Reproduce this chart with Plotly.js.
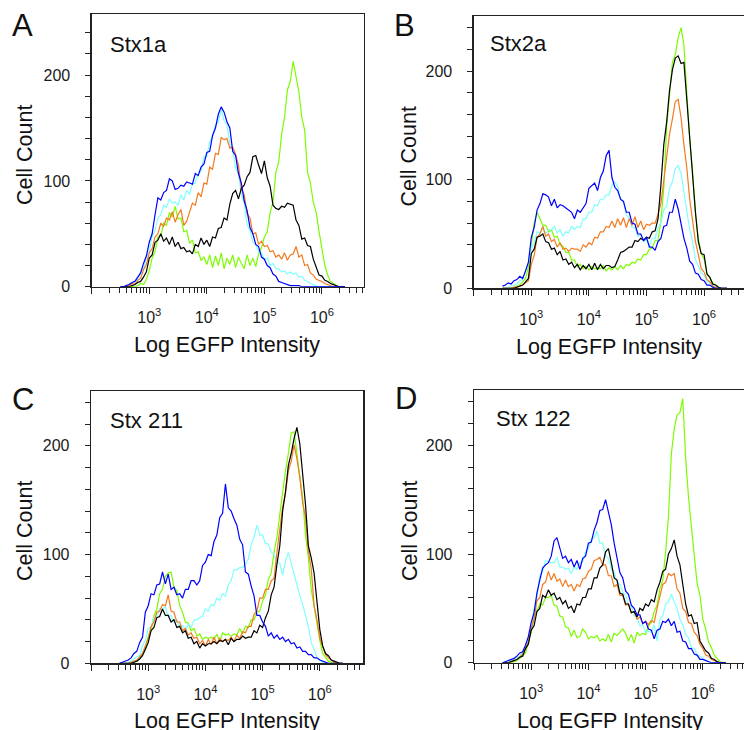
<!DOCTYPE html>
<html>
<head>
<meta charset="utf-8">
<script src="https://cdn.plot.ly/plotly-3.0.1.min.js"></script>
<style>html,body{margin:0;padding:0;background:#fff;}#chart{width:744px;height:730px;}</style>
</head>
<body>
<div id="chart"></div>
<script>
// log10 of bin centres (EGFP intensity)
const logBins = [2.50,2.55,2.60,2.65,2.70,2.75,2.80,2.85,2.90,2.95,
 3.00,3.05,3.10,3.15,3.20,3.25,3.30,3.35,3.40,3.45,
 3.50,3.55,3.60,3.65,3.70,3.75,3.80,3.85,3.90,3.95,
 4.00,4.05,4.10,4.15,4.20,4.25,4.30,4.35,4.40,4.45,
 4.50,4.55,4.60,4.65,4.70,4.75,4.80,4.85,4.90,4.95,
 5.00,5.05,5.10,5.15,5.20,5.25,5.30,5.35,5.40,5.45,
 5.50,5.55,5.60,5.65,5.70,5.75,5.80,5.85,5.90,5.95,
 6.00,6.05,6.10,6.15,6.20,6.25,6.30,6.35,6.40];

const panelLetters = ['A','B','C','D'];
const panelNames = ['Stx1a','Stx2a','Stx 211','Stx 122'];
const xTickText = ['', '10<sup>3</sup>', '10<sup>4</sup>', '10<sup>5</sup>', '10<sup>6</sup>'];
const yTickLabels = [0, 100, 200];
const xTitle = 'Log EGFP Intensity';
const yTitle = 'Cell Count';

// Panel A: Stx1a
const A_green = [0,0,0,0,0,0,1,3,2,7, 15,27,33,47,48,60,58,70,66,76, 64,65,52,53,41,44,32,33,25,28, 21,30,18,29,20,32,17,27,21,30, 18,28,22,17,30,20,27,19,31,37, 47,52,70,80,108,118,144,160,186,194, 213,198,184,160,148,108,98,80,70,52, 36,20,11,5,3,1,0,0,0];
const A_cyan = [0,0,1,2,3,5,7,13,17,28, 33,47,53,65,68,77,75,83,79,80, 77,87,82,91,87,97,98,107,109,123, 123,137,142,153,155,168,157,153,135,129, 112,107,87,79,59,53,42,40,33,32, 26,27,20,22,17,17,14,15,12,14, 12,13,9,10,6,5,3,2,1,0, 0,0,0,0,0,0,0,0,0];
const A_orange = [0,0,0,1,3,2,6,8,16,21, 32,36,47,50,60,57,65,63,71,61, 68,73,58,62,70,79,77,89,85,98, 97,113,111,126,125,141,139,140,131,132, 125,115,92,87,69,65,50,51,40,43, 38,39,33,34,28,30,26,32,25,30, 31,38,28,30,20,21,13,11,7,6, 5,3,2,1,0,0,0,0,0];
const A_black = [0,0,0,0,1,2,4,5,9,14, 27,30,42,44,50,43,46,40,47,38, 42,36,37,33,34,31,40,38,46,40, 44,38,47,46,55,56,65,63,78,88, 91,83,93,96,104,108,123,124,115,107, 119,103,95,77,74,73,76,75,79,78, 77,63,58,45,46,39,38,26,18,11, 10,6,5,3,2,1,0,0,0];
const A_blue = [0,0,1,2,4,5,9,13,22,29, 42,50,68,84,82,89,91,102,100,92, 93,96,95,99,98,97,107,105,113,116, 127,128,143,150,163,170,165,156,150,128, 124,107,98,81,72,56,50,40,38,28, 26,20,18,12,10,5,4,3,2,1, 1,1,1,0,0,0,0,0,0,0, 0,0,0,0,0,0,0,0,0];

// Panel B: Stx2a
const B_green = [0,0,0,0,1,2,3,6,9,20, 38,60,70,64,58,58,52,54,47,48, 40,39,33,33,26,26,20,22,18,20, 17,20,18,19,18,21,16,19,17,20, 17,21,18,22,21,24,23,27,26,31, 31,36,37,44,44,62,92,148,175,208, 215,231,240,224,180,137,108,69,46,32, 27,14,10,5,3,1,0,0,0];
const B_cyan = [0,0,1,2,3,4,7,8,16,23, 37,42,52,51,57,50,54,54,57,51, 54,48,52,51,57,54,57,56,64,64, 70,70,77,76,82,82,86,86,95,98, 94,82,80,68,64,56,56,48,50,43, 45,39,46,46,56,60,72,76,92,98, 110,113,106,90,74,54,44,26,21,14, 12,6,5,3,2,1,0,0,0];
const B_orange = [0,0,0,0,1,1,2,3,5,7, 22,30,47,50,57,48,50,43,45,38, 42,36,37,34,37,36,36,34,40,38, 42,40,47,46,52,52,57,56,62,56, 64,58,65,56,64,58,66,56,62,54, 59,58,60,60,68,78,99,118,142,156, 172,174,157,132,111,82,62,43,31,18, 15,8,6,2,1,0,0,0,0];
const B_black = [0,0,0,0,0,1,2,3,6,9, 32,36,47,48,50,43,42,36,37,31, 34,26,27,22,24,19,22,17,21,18, 22,17,23,17,22,18,21,21,19,20, 26,33,34,36,38,38,44,43,46,44, 47,46,52,53,64,95,132,153,182,201, 212,214,207,208,174,132,105,70,43,32, 31,13,10,4,3,1,0,0,0];
const B_blue = [2,3,5,4,7,8,11,9,16,24, 47,56,72,78,87,86,84,76,82,74, 77,76,74,72,70,64,72,70,74,78, 92,95,97,90,102,108,122,127,102,93, 90,82,80,70,70,60,59,50,50,44, 47,38,38,35,43,46,57,58,70,70, 82,73,60,46,37,25,22,14,13,8, 7,3,3,1,0,0,0,0,0];

// Panel C: Stx 211
const C_green = [0,0,0,0,0,1,2,4,9,13, 24,30,44,50,64,68,80,83,84,70, 67,53,47,38,37,30,32,25,27,22, 24,23,24,22,27,20,28,26,27,25, 27,26,32,27,34,33,40,40,47,48, 57,63,77,83,102,116,137,158,177,193, 212,213,192,170,152,118,97,68,52,33, 21,9,6,2,1,0,0,0,0];
const C_cyan = [0,0,0,1,2,4,6,7,16,21, 32,33,42,43,50,50,52,43,44,38, 40,33,35,30,36,33,40,40,42,43, 50,48,54,53,60,58,64,62,72,76, 86,86,88,88,91,96,109,116,127,118, 118,110,110,102,100,93,92,81,94,102, 92,81,72,62,54,44,34,19,13,5, 3,1,0,0,0,0,0,0,0];
const C_orange = [0,0,0,0,1,2,3,6,9,16, 23,34,38,47,48,54,53,63,48,47, 38,38,30,32,26,28,23,24,18,21, 16,22,17,24,18,23,20,22,21,24, 20,26,23,29,28,34,34,45,48,60, 60,68,68,76,78,102,123,144,156,177, 186,201,188,171,148,134,103,87,53,40, 23,16,8,5,3,1,0,0,0];
const C_black = [0,0,0,0,0,1,2,4,7,13, 19,30,33,42,43,50,44,44,38,40, 33,34,28,30,23,24,18,20,14,18, 16,18,18,20,18,21,20,22,17,23, 20,22,22,25,23,24,24,30,28,35, 33,42,48,63,70,91,108,140,158,182, 193,207,217,202,173,146,108,97,83,60, 31,16,9,7,3,2,1,0,0];
const C_blue = [0,1,2,3,5,9,11,19,24,47, 53,64,63,72,73,84,73,82,68,70, 63,64,60,68,68,76,76,72,76,90, 93,100,99,112,118,134,138,165,143,140, 133,127,114,109,84,82,71,62,44,44, 38,34,25,28,23,26,22,24,20,22, 18,19,14,15,11,11,8,8,5,5, 3,2,1,0,0,0,0,0,0];

// Panel D: Stx 122
const D_green = [0,0,0,0,1,2,4,7,9,19, 28,42,48,54,53,60,60,62,53,52, 43,42,33,32,24,30,23,24,31,28, 22,24,23,25,20,22,20,26,19,27, 25,28,31,27,20,26,18,28,25,27, 26,34,37,47,53,68,76,102,135,192, 215,228,230,243,188,152,128,99,73,62, 40,31,19,14,7,4,1,0,0];
const D_cyan = [0,0,1,2,3,5,6,10,13,23, 31,50,60,80,84,94,93,92,92,97, 88,88,86,87,82,88,86,92,93,102, 105,114,115,121,110,110,98,96,86,84, 74,72,65,62,53,52,43,42,34,35, 28,29,28,35,20,40,43,54,56,63, 56,50,40,35,26,23,14,13,7,6, 4,2,1,0,0,0,0,0,0];
const D_orange = [0,0,0,1,2,3,5,8,13,19, 32,40,57,60,72,74,84,76,82,75, 77,70,76,70,72,66,72,70,77,78, 84,86,94,95,97,90,90,80,80,70, 72,62,62,53,54,46,47,40,42,36, 38,35,39,37,50,62,72,74,82,80, 82,68,64,50,47,37,36,28,25,17, 13,7,6,3,2,1,0,0,0];
const D_black = [0,0,0,1,2,3,5,6,13,17, 30,34,47,50,62,60,67,62,64,58, 60,54,57,50,52,46,54,53,60,60, 68,68,78,78,87,90,102,105,92,78, 76,64,63,54,54,46,47,42,50,48, 54,52,58,56,67,74,84,86,100,105, 113,98,90,74,54,43,44,36,37,20, 16,11,9,4,3,1,0,0,0];
const D_blue = [0,1,2,3,4,6,9,10,16,24, 37,46,64,76,87,90,92,98,112,115, 104,96,98,92,95,88,94,86,96,98, 110,111,122,129,140,141,150,138,127,110, 97,83,78,66,63,53,50,44,44,36, 38,31,30,22,30,31,38,37,40,34, 38,28,29,20,19,13,13,8,7,3, 3,2,1,0,0,0,0,0,0];

const seriesColors = {green:'#7CFC00', cyan:'#80FFFF', orange:'#F37A1F', black:'#000000', blue:'#0000FF'};
const panels = [
  {green:A_green, cyan:A_cyan, orange:A_orange, black:A_black, blue:A_blue},
  {green:B_green, cyan:B_cyan, orange:B_orange, black:B_black, blue:B_blue},
  {green:C_green, cyan:C_cyan, orange:C_orange, black:C_black, blue:C_blue},
  {green:D_green, cyan:D_cyan, orange:D_orange, black:D_black, blue:D_blue}
];
const drawOrder = ['green','cyan','orange','black','blue'];

const W = 744, H = 730;
const FONT = '"Liberation Sans", Arial, Helvetica, sans-serif';
const xs = logBins.map(v => Math.pow(10, v));

// frame geometry in pixels: [left, right, top, bottom], x range max, y range max
const geom = [
  {l:91.7, r:364, t:14.3, b:286.7, xmax:6.731, ymax:257.5, mirrorY:true},
  {l:473.7, r:744, t:16, b:288.3, xmax:6.693, ymax:250.7, mirrorY:false},
  {l:91, r:363.3, t:391, b:663.3, xmax:6.760, ymax:250.5, mirrorY:true},
  {l:474, r:744, t:390, b:662.7, xmax:6.720, ymax:250.9, mirrorY:false}
];

const majorVals = [1e2,1e3,1e4,1e5,1e6];
const minorVals = [];
for (let e = 2; e <= 6; e++) for (let m = 2; m <= 9; m++) minorVals.push(m * Math.pow(10, e));
const yMinor = [20,40,60,80,120,140,160,180,220,240];

const traces = [];
const layout = {
  width: W, height: H, margin:{l:0,r:0,t:0,b:0},
  paper_bgcolor:'#fff', plot_bgcolor:'#fff', showlegend:false,
  font:{family:FONT, color:'#111'},
  annotations: []
};

panels.forEach((p, i) => {
  const n = i === 0 ? '' : String(i + 1);
  const g = geom[i];
  drawOrder.forEach(k => {
    traces.push({x: xs, y: p[k], xaxis:'x' + n, yaxis:'y' + n, type:'scatter', mode:'lines',
      line:{color: seriesColors[k], width:1.2}, hoverinfo:'skip'});
  });
  layout['xaxis' + n] = {
    type:'log', domain:[g.l / W, Math.min(1, g.r / W)], range:[2, g.xmax], anchor:'y' + n,
    showline:true, linecolor:'#222', linewidth:1.3, mirror:true,
    ticks:'outside', ticklen:6, tickwidth:1, tickcolor:'#222',
    tickmode:'array', tickvals: majorVals, ticktext: xTickText,
    tickfont:{family:FONT, size:16, color:'#1a1a1a'}, ticklabelstandoff: 10,
    minor:{tickmode:'array', tickvals: minorVals, ticks:'outside', ticklen:5, tickwidth:1, tickcolor:'#222', showgrid:false},
    showgrid:false, zeroline:false, fixedrange:true
  };
  layout['yaxis' + n] = {
    domain:[1 - g.b / H, 1 - g.t / H], range:[0, g.ymax], anchor:'x' + n,
    showline:true, linecolor:'#222', linewidth:1.3, mirror:g.mirrorY,
    ticks:'outside', ticklen:5, tickwidth:1, tickcolor:'#222',
    tickmode:'array', tickvals: yTickLabels, ticktext: yTickLabels.map(String),
    tickfont:{family:FONT, size:16, color:'#1a1a1a'}, ticklabelstandoff: 12,
    minor:{tickmode:'array', tickvals: yMinor, ticks:'outside', ticklen:5, tickwidth:1, tickcolor:'#222', showgrid:false},
    showgrid:false, zeroline:false, fixedrange:true
  };
});

function ann(text, px, py, size, opts) {
  return Object.assign({text, x: px / W, y: 1 - py / H, xref:'paper', yref:'paper',
    showarrow:false, xanchor:'center', yanchor:'middle', font:{family:FONT, size, color:'#111'}}, opts || {});
}
const letterPos = [[22.5,26],[405,26],[22.5,399],[406,398]];
const namePos = [[108,44.5],[488,43],[108,420],[494,418.5]];
const xTitlePos = [[227,345],[609,347],[227,721],[610,721]];
const yTitlePos = [[25,155],[408.5,157],[25,531],[410,531]];
for (let i = 0; i < 4; i++) {
  layout.annotations.push(ann(panelLetters[i], letterPos[i][0], letterPos[i][1], 31));
  layout.annotations.push(ann(panelNames[i], namePos[i][0], namePos[i][1], 22, {xanchor:'left'}));
  layout.annotations.push(ann(xTitle, xTitlePos[i][0], xTitlePos[i][1], 21.5));
  layout.annotations.push(ann(yTitle, yTitlePos[i][0], yTitlePos[i][1], 21.5, {textangle:-90}));
}

Plotly.newPlot('chart', traces, layout, {staticPlot:true, displayModeBar:false});
</script>
</body>
</html>
